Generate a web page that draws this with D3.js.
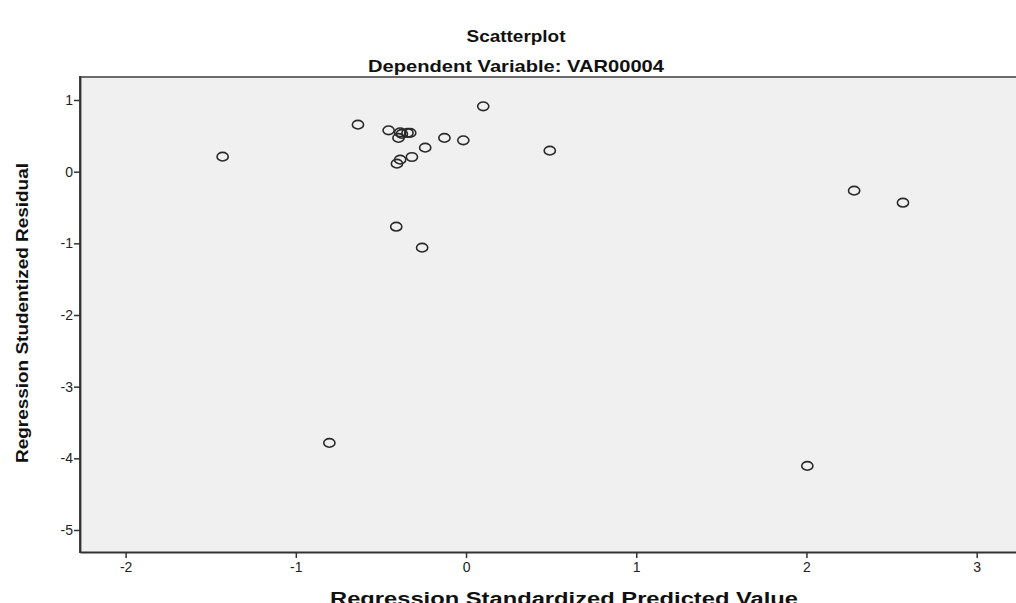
<!DOCTYPE html>
<html><head><meta charset="utf-8">
<script src="https://cdn.jsdelivr.net/npm/d3@7"></script>
<style>html,body{margin:0;padding:0;background:#fff;overflow:hidden}</style>
</head><body>
<svg id="c" width="1016" height="603"></svg>
<script>
const predicted = [-1.430,-0.635,0.101,-0.455,-0.387,-0.377,-0.344,-0.328,-0.397,-0.127,-0.016,-0.240,-0.318,-0.387,-0.406,0.492,-0.410,-0.258,-0.803,2.005,2.280,2.567];
const residual  = [0.209,0.656,0.912,0.577,0.549,0.527,0.541,0.541,0.471,0.471,0.437,0.335,0.205,0.168,0.112,0.293,-0.768,-1.060,-3.785,-4.106,-0.265,-0.433];
const xTicks = [-2,-1,0,1,2,3];
const yTicks = [1,0,-1,-2,-3,-4,-5];
const titles = ["Scatterplot","Dependent Variable: VAR00004"];
const xLabel = "Regression Standardized Predicted Value";
const yLabel = "Regression Studentized Residual";

const svg = d3.select("#c");
const L=80, R=1016, T=77, B=552;
const x = d3.scaleLinear().domain([-2.268,3.231]).range([L,R]);
const y = d3.scaleLinear().domain([-5.307,1.321]).range([B,T]);

svg.append("rect").attr("x",L).attr("y",T).attr("width",R-L).attr("height",B-T).attr("fill","#f0f0f0");
svg.append("line").attr("x1",L).attr("x2",R).attr("y1",T).attr("y2",T).attr("stroke","#6a6a6a").attr("stroke-width",2);

const fontFam = "'Liberation Sans', Arial, sans-serif";

const xa = svg.append("g").attr("transform",`translate(0,${B})`)
  .call(d3.axisBottom(x).tickValues(xTicks).tickFormat(d=>String(d)).tickSize(6).tickSizeOuter(0));
const ya = svg.append("g").attr("transform",`translate(${L},0)`)
  .call(d3.axisLeft(y).tickValues(yTicks).tickFormat(d=>String(d)).tickSize(6).tickSizeOuter(0));
[xa,ya].forEach(a=>{
  a.select(".domain").attr("stroke","#333").attr("stroke-width",1.8);
  a.selectAll(".tick line").attr("stroke","#333").attr("stroke-width",1.5);
  a.selectAll(".tick text").attr("fill","#222").style("font-family",fontFam).style("font-size","14px");
});
xa.selectAll(".tick text").attr("dy","0.75em").attr("y",9);
ya.selectAll(".tick text").attr("x",-7);
svg.append("line").attr("x1",L).attr("x2",L).attr("y1",T-1).attr("y2",B+1).attr("stroke","#333").attr("stroke-width",1.8);

svg.append("g").selectAll("ellipse").data(predicted.map((p,i)=>[p,residual[i]]))
  .join("ellipse")
  .attr("cx",d=>x(d[0])).attr("cy",d=>y(d[1]))
  .attr("rx",5.6).attr("ry",4.3)
  .attr("fill","none").attr("stroke","#2a2a2a").attr("stroke-width",1.6);

svg.append("text").attr("x",516).attr("y",42).attr("text-anchor","middle")
  .style("font-family",fontFam).style("font-weight","bold").style("font-size","17px").attr("fill","#111")
  .attr("textLength",99).attr("lengthAdjust","spacingAndGlyphs").text(titles[0]);
svg.append("text").attr("x",516).attr("y",72).attr("text-anchor","middle")
  .style("font-family",fontFam).style("font-weight","bold").style("font-size","17px").attr("fill","#111")
  .attr("textLength",296).attr("lengthAdjust","spacingAndGlyphs").text(titles[1]);

svg.append("text").attr("transform","translate(28,313) rotate(-90)").attr("text-anchor","middle")
  .style("font-family",fontFam).style("font-weight","bold").style("font-size","16px").attr("fill","#111")
  .attr("textLength",300).attr("lengthAdjust","spacingAndGlyphs").text(yLabel);

svg.append("text").attr("x",564).attr("y",605).attr("text-anchor","middle")
  .style("font-family",fontFam).style("font-weight","bold").style("font-size","18px").attr("fill","#111")
  .attr("textLength",468).attr("lengthAdjust","spacingAndGlyphs").text(xLabel);
</script>
</body></html>
